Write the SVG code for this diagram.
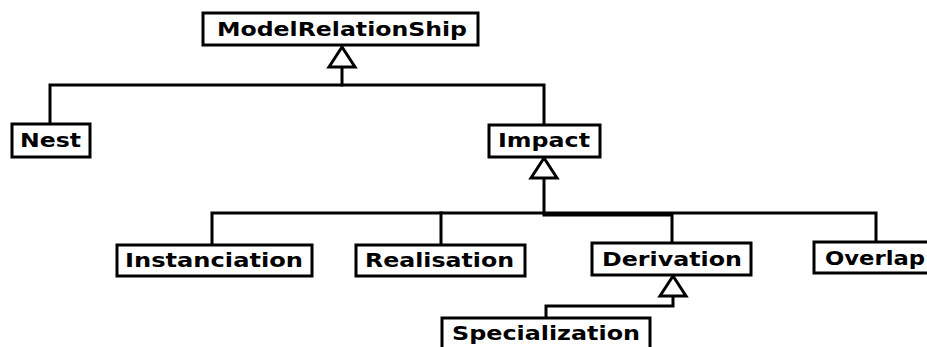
<svg xmlns="http://www.w3.org/2000/svg" xmlns:xlink="http://www.w3.org/1999/xlink" width="927" height="347" viewBox="0 0 927 347">
  <style>
    .box { fill: #ffffff; stroke: #000000; stroke-width: 3; }
    .lbl { font-family: "DejaVu Sans", "Liberation Sans", sans-serif; font-weight: bold; font-size: 19px; fill: #000000; }
    .wire { fill: none; stroke: #000000; stroke-width: 3; stroke-linecap: square; }
    .head { fill: #ffffff; stroke: #000000; stroke-width: 3; stroke-linejoin: miter; }
  </style>
  <defs>
    <!-- hollow generalisation triangle, tip at (0,0) pointing up -->
    <polygon id="gen" class="head" points="0,0 -13,20 13,20"/>
  </defs>
  <rect width="927" height="347" fill="#ffffff"/>

  <g id="connectors">
    <!-- ModelRelationShip hierarchy -->
    <polyline class="wire" points="342,67 342,85"/>
    <polyline class="wire" points="50,124 50,85 544,85 544,124"/>
    <use xlink:href="#gen" x="342" y="47"/>
    <!-- Impact hierarchy -->
    <polyline class="wire" points="544,178 544,213"/>
    <polyline class="wire" points="212,244 212,213 876,213 876,242"/>
    <polyline class="wire" points="441,213 441,244"/>
    <polyline class="wire" points="544,215 672,215 672,243"/>
    <use xlink:href="#gen" x="544" y="158"/>
    <!-- Derivation hierarchy -->
    <polyline class="wire" points="673,296 673,306 546,306 546,318"/>
    <use xlink:href="#gen" x="673" y="276"/>
  </g>

  <g id="node-modelrelationship">
    <rect class="box" x="203" y="13" width="275" height="32"/>
    <text class="lbl" x="217" y="35.5" textLength="250" lengthAdjust="spacingAndGlyphs">ModelRelationShip</text>
  </g>
  <g id="node-nest">
    <rect class="box" x="12" y="124" width="78" height="33"/>
    <text class="lbl" x="20" y="146.5" textLength="61" lengthAdjust="spacingAndGlyphs">Nest</text>
  </g>
  <g id="node-impact">
    <rect class="box" x="489" y="125" width="111" height="32"/>
    <text class="lbl" x="498" y="146.5" textLength="92" lengthAdjust="spacingAndGlyphs">Impact</text>
  </g>
  <g id="node-instanciation">
    <rect class="box" x="117" y="245" width="195" height="31"/>
    <text class="lbl" x="125" y="266.5" textLength="178" lengthAdjust="spacingAndGlyphs">Instanciation</text>
  </g>
  <g id="node-realisation">
    <rect class="box" x="356" y="245" width="169" height="31"/>
    <text class="lbl" x="365" y="266.5" textLength="149" lengthAdjust="spacingAndGlyphs">Realisation</text>
  </g>
  <g id="node-derivation">
    <rect class="box" x="592" y="243" width="159" height="32"/>
    <text class="lbl" x="602" y="265.5" textLength="140" lengthAdjust="spacingAndGlyphs">Derivation</text>
  </g>
  <g id="node-overlap">
    <rect class="box" x="814" y="242" width="130" height="31"/>
    <text class="lbl" x="825" y="264.5" textLength="100" lengthAdjust="spacingAndGlyphs">Overlap</text>
  </g>
  <g id="node-specialization">
    <rect class="box" x="442" y="318" width="208" height="40"/>
    <text class="lbl" x="452" y="339.5" textLength="188" lengthAdjust="spacingAndGlyphs">Specialization</text>
  </g>
</svg>
